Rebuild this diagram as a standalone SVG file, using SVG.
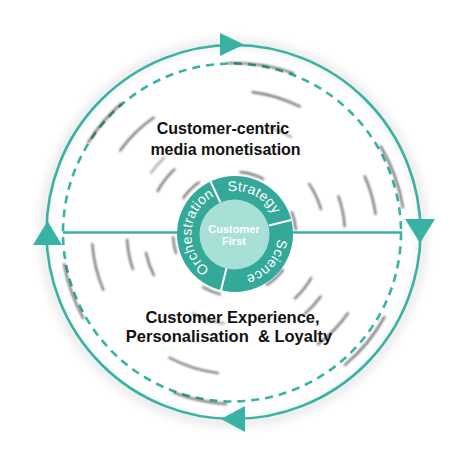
<svg xmlns="http://www.w3.org/2000/svg" width="467" height="467" viewBox="0 0 467 467">
<defs>
<filter id="blur" x="-50%" y="-50%" width="200%" height="200%"><feGaussianBlur stdDeviation="1.2"/></filter>
<filter id="soft" x="-20%" y="-20%" width="140%" height="140%"><feGaussianBlur stdDeviation="4"/></filter>
<path id="arcOrch" d="M224.33,275.90 A43,43 0 0,1 229.76,191.32"/>
<path id="arcStrat" d="M200.66,208.12 A43,43 0 0,1 276.12,246.57"/>
<path id="arcSci" d="M268.42,206.94 A43,43 0 0,1 212.85,270.86"/>
</defs>
<style>
.ring{fill:none;stroke:#38B2A3;stroke-width:2.6}
.dash{fill:none;stroke:#38B2A3;stroke-width:2.6;stroke-dasharray:8 6}
.arrow{fill:#38B2A3}
.mark{fill:none;stroke:#333;stroke-width:2.2;stroke-linecap:round;filter:url(#blur);opacity:0.7}
.faint{opacity:0.4}
.sep{stroke:#fff;stroke-width:2}
.main{font-family:"Liberation Sans",Arial,sans-serif;font-weight:bold;fill:#111;text-anchor:middle}
.hubt{font-family:"Liberation Sans",Arial,sans-serif;font-size:14px;fill:#fff;letter-spacing:0.3px}
.core{font-family:"Liberation Sans",Arial,sans-serif;font-weight:bold;font-size:11px;fill:#fff;text-anchor:middle}
</style>
<rect width="467" height="467" fill="#fff"/>
<circle cx="233.5" cy="233" r="190" fill="none" stroke="#000" stroke-opacity="0.1" stroke-width="7" filter="url(#soft)"/>
<g id="cycle">
<circle class="ring" cx="233.5" cy="232" r="187"/>
<circle class="dash" cx="232" cy="232.5" r="169"/>
</g>
<g id="motion">
<path class="mark" d="M88.3,142.3 A173,173 0 0 1 121.5,103.4"/>
<path class="mark" d="M120.1,150.5 A142,142 0 0 1 153.6,117.7"/>
<path class="mark faint" d="M150.9,172.9 A104,104 0 0 1 164.1,157.9"/>
<path class="mark" d="M157.6,191.1 A88.5,88.5 0 0 1 174.6,169.3"/>
<path class="mark" d="M183.4,197.9 A63,63 0 0 1 198.9,182.4"/>
<path class="mark" d="M229.0,63.1 A171,171 0 0 1 293.5,73.3"/>
<path class="mark" d="M252.4,92.1 A143,143 0 0 1 299.9,106.6"/>
<path class="mark faint" d="M269.6,127.5 A112,112 0 0 1 291,137"/>
<path class="mark" d="M240.4,172.2 A62,62 0 0 1 263.1,178.8"/>
<path class="mark" d="M309.2,184.0 A89.5,89.5 0 0 1 321.0,209.3"/>
<path class="mark" d="M338.4,196.4 A110,110 0 0 1 344.7,226.3"/>
<path class="mark" d="M364.7,176.2 A142,142 0 0 1 375.6,214.2"/>
<path class="mark" d="M380.7,146.4 A170,170 0 0 1 402.9,207.4"/>
<path class="mark" d="M291.9,212.1 A61,61 0 0 1 295.9,229.7"/>
<path class="mark" d="M103.4,289.9 A143,143 0 0 1 92.3,244.0"/>
<path class="mark" d="M132.9,269.2 A108,108 0 0 1 127.1,239.6"/>
<path class="mark" d="M153.9,275.3 A91,91 0 0 1 146.0,252.9"/>
<path class="mark" d="M176.0,253.2 A62,62 0 0 1 173.1,237.2"/>
<path class="mark" d="M83.3,318.1 A173.5,173.5 0 0 1 64.1,264.1"/>
<path class="mark" d="M220.0,294.2 A62,62 0 0 1 203.1,287.1"/>
<path class="mark faint" d="M224.0,323.3 A90,90 0 0 1 192.7,313.5"/>
<path class="mark" d="M217.9,373.0 A140,140 0 0 1 169.3,357.6"/>
<path class="mark" d="M226.1,403.8 A170,170 0 0 1 174.1,392.7"/>
<path class="mark" d="M282.9,270.1 A60,60 0 0 1 266.8,284.9"/>
<path class="mark" d="M311.2,278 A88,88 0 0 1 295.0,298.4"/>
<path class="mark" d="M320.8,296.3 A106,106 0 0 1 304.5,314.0"/>
<path class="mark" d="M348.0,313.2 A138,138 0 0 1 318.0,344.2"/>
<path class="mark" d="M384.6,316.9 A171,171 0 0 1 344.9,365.0"/>
</g>
<g id="connectors">
<line x1="63" y1="232.5" x2="402" y2="232.5" stroke="#38B2A3" stroke-width="2.6"/>
<polygon class="arrow" points="220,33 220,56 244,44.5"/>
<polygon class="arrow" points="33,245 62,245 47.5,221"/>
<polygon class="arrow" points="405,219 435,219 420,243"/>
<polygon class="arrow" points="245,406 245,432 221,419"/>
</g>
<g id="hub">
<circle cx="235" cy="234" r="58" fill="#35A999"/>
<circle cx="234.5" cy="234.5" r="35" fill="#A8DFD7"/>
<line class="sep" x1="220.21" y1="202.28" x2="210.49" y2="181.43"/>
<line class="sep" x1="268.96" y1="225.53" x2="291.28" y2="219.97"/>
<line class="sep" x1="226.53" y1="267.96" x2="220.97" y2="290.28"/>
<text class="hubt"><textPath href="#arcOrch" startOffset="50%" text-anchor="middle">Orchestration</textPath></text>
<text class="hubt"><textPath href="#arcStrat" startOffset="50%" text-anchor="middle">Strategy</textPath></text>
<text class="hubt"><textPath href="#arcSci" startOffset="50%" text-anchor="middle">Science</textPath></text>
<text class="core" x="234" y="233">Customer</text>
<text class="core" x="234" y="245">First</text>
</g>
<g id="top-label">
<text class="main" font-size="16" x="223" y="134">Customer-centric</text>
<text class="main" font-size="16" x="225.5" y="155">media monetisation</text>
</g>
<g id="bottom-label">
<text class="main" font-size="16.5" x="232.5" y="323">Customer Experience,</text>
<text class="main" font-size="16.5" x="229" y="342" xml:space="preserve" style="white-space:pre">Personalisation  &amp; Loyalty</text>
</g>
</svg>
